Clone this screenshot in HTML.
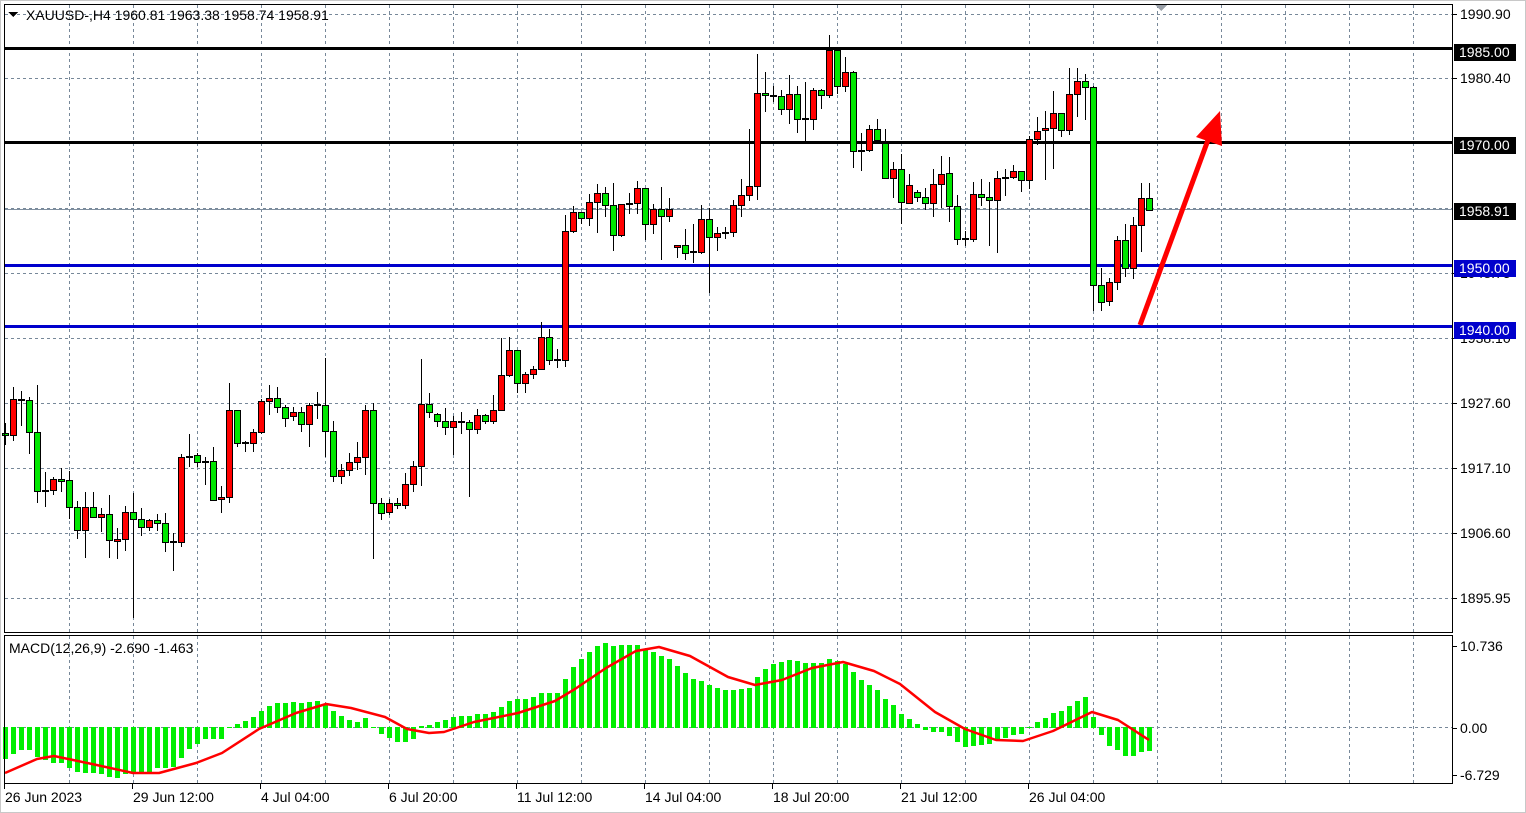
<!DOCTYPE html>
<html><head><meta charset="utf-8">
<style>
html,body{margin:0;padding:0;background:#fff;}
body{width:1526px;height:813px;overflow:hidden;position:relative;font-family:"Liberation Sans","DejaVu Sans",sans-serif;}
svg{position:absolute;left:0;top:0;}
text{font-family:"Liberation Sans","DejaVu Sans",sans-serif;font-size:14px;}
</style></head><body>
<svg id="s" width="1526" height="813" xmlns="http://www.w3.org/2000/svg" shape-rendering="crispEdges">
<rect x="0" y="0" width="1526" height="813" fill="#fff"/>
<rect x="0.5" y="0.5" width="1525" height="812" fill="none" stroke="#c8c8c8"/>
<g id="grid" stroke="#778899" stroke-dasharray="3,3" stroke-width="1"></g>
<g id="lines"></g>
<g id="candles"></g>
<g id="macd"></g>
<rect x="4.5" y="4.5" width="1448" height="628" fill="none" stroke="#000"/>
<rect x="4.5" y="635.5" width="1448" height="148" fill="none" stroke="#000"/>
<g id="axis"></g>
<polygon points="1155,5 1167,5 1161,11" fill="#9aa0a8"/>
<text x="26" y="20">XAUUSD-,H4  1960.81 1963.38 1958.74 1958.91</text>
<polygon points="8,12 18,12 13,17" fill="#000"/>
<text x="9" y="653">MACD(12,26,9) -2.690 -1.463</text>
</svg>
<script>
var NS="http://www.w3.org/2000/svg";
function el(p,t,a,txt){var e=document.createElementNS(NS,t);for(var k in a)e.setAttribute(k,a[k]);if(txt!==undefined)e.textContent=txt;p.appendChild(e);return e;}
var grid=document.getElementById('grid');
for(var x=69;x<1452;x+=64){el(grid,'line',{x1:x+.5,y1:5,x2:x+.5,y2:632});el(grid,'line',{x1:x+.5,y1:636,x2:x+.5,y2:783});}
[14,78,143,208,273,338,403,468,533,598].forEach(function(y){el(grid,'line',{x1:5,y1:y+.5,x2:1452,y2:y+.5});});
el(grid,'line',{x1:5,y1:727.5,x2:1452,y2:727.5});
var L=document.getElementById('lines');
el(L,'line',{x1:5,y1:209.5,x2:1452,y2:209.5,stroke:'#8090a0','stroke-width':1});
el(L,'rect',{x:5,y:47,width:1448,height:3,fill:'#000'});
el(L,'rect',{x:5,y:141,width:1448,height:3,fill:'#000'});
el(L,'rect',{x:5,y:264,width:1448,height:3,fill:'#0000cc'});
el(L,'rect',{x:5,y:325,width:1448,height:3,fill:'#0000cc'});
var D="g 433 435 423 445|r 399 435 387 441|d 400 400 391 426|g 400 432 397 454|g 432 491 385 503|d 491 491 472 507|r 479 490 477 495|g 479 481 468 492|g 480 507 471 519|g 507 530 501 539|r 507 530 492 558|g 507 517 492 517|r 514 517 508 532|g 514 540 495 558|r 539 541 528 559|r 512 539 506 551|g 512 519 493 618|g 519 527 508 536|r 520 527 519 531|g 520 523 514 531|g 523 542 513 552|d 542 542 533 571|r 457 542 454 547|d 457 457 434 467|g 455 462 453 467|d 462 462 457 485|g 461 500 447 501|r 497 499 486 513|r 410 497 383 503|g 410 443 410 447|d 443 443 441 452|r 432 443 429 452|r 401 432 399 434|r 398 401 385 415|g 398 407 387 413|g 407 418 405 427|r 412 416 407 421|g 412 424 407 432|r 405 424 403 447|d 405 405 392 419|g 405 431 358 457|g 431 476 421 482|r 470 476 464 484|r 462 470 453 476|r 457 462 442 470|r 410 457 405 475|g 410 503 403 559|g 503 513 498 520|r 503 512 499 515|g 503 505 498 509|r 484 505 473 509|r 466 484 461 492|r 404 466 359 486|g 404 412 393 418|g 414 421 413 427|g 421 427 408 435|r 421 427 416 455|d 422 422 412 434|g 422 429 420 497|r 415 429 409 434|g 415 421 414 424|r 410 421 395 424|r 375 410 338 411|r 350 375 337 377|g 350 383 350 393|r 374 383 372 393|r 369 374 366 379|r 337 369 322 369|g 337 360 329 365|d 360 360 349 368|r 231 360 215 367|r 212 231 206 233|g 212 218 212 224|r 202 218 194 226|r 193 202 184 233|g 193 205 187 217|g 205 235 183 251|r 204 235 204 237|d 204 204 193 214|r 188 203 181 214|g 188 224 188 240|r 209 224 204 234|g 209 216 187 260|r 209 216 198 222|r 245 247 245 258|g 245 253 229 260|d 252 252 224 263|r 219 252 205 254|g 219 237 208 293|r 233 237 227 251|d 233 233 227 239|r 205 232 200 237|r 195 205 179 217|r 186 195 129 201|r 93 186 54 200|g 93 95 72 112|d 96 96 86 102|g 96 109 90 115|r 94 109 75 124|g 94 119 86 133|d 119 119 82 144|r 90 119 88 130|g 90 95 89 109|r 50 95 35 98|g 50 86 50 94|r 72 86 57 92|g 72 151 71 168|d 151 151 133 171|r 129 150 125 152|g 129 140 119 140|g 143 178 129 179|r 169 178 162 198|g 169 202 154 224|r 185 203 174 203|g 192 197 190 202|g 197 203 188 210|r 184 203 169 217|r 174 184 156 208|g 173 206 157 222|g 206 239 195 245|d 239 239 231 246|r 194 239 182 242|g 194 197 179 206|g 197 200 182 246|r 178 200 171 253|d 178 178 169 196|r 171 177 165 179|g 171 180 171 192|r 139 180 136 189|r 131 139 117 145|r 128 130 111 180|r 113 128 91 169|g 113 130 113 137|r 94 130 68 135|r 81 94 68 117|g 81 87 74 120|g 87 285 86 311|g 285 302 268 311|r 282 301 278 306|r 240 282 236 290|g 240 268 224 277|r 225 268 217 279|r 198 225 183 252|g 198 210 183 211";
var C=document.getElementById('candles');
D.split('|').forEach(function(s,i){var p=s.split(' ');var t=p[0],bt=+p[1],bb=+p[2],wt=+p[3],wb=+p[4];var x=5+8*i;
el(C,'rect',{x:x,y:wt,width:1,height:Math.max(1,wb-wt),fill:'#000'});
if(t==='d'||bb-bt<1){el(C,'rect',{x:x-3,y:bt-1,width:7,height:2,fill:'#000'});}
else{el(C,'rect',{x:x-2.5,y:bt+.5,width:6,height:bb-bt,fill:t==='r'?'#ff0000':'#00e600',stroke:'#000','stroke-width':1});}
});
var H=[759,754,750,750,757,760,763,763,768,772,773,773,774,777,778,774,773,772,772,768,768,767,758,749,744,739,739,739,728,724,721,717,711,706,703,703,702,703,702,701,704,711,716,720,722,718,727,734,738,742,742,739,726,725,722,720,717,716,716,714,714,712,707,701,699,699,697,693,693,693,679,667,659,652,646,643,646,645,645,645,649,652,656,659,666,673,679,681,685,688,690,690,689,688,677,669,664,662,660,661,663,663,663,659,661,664,672,680,685,690,699,705,714,719,724,730,732,732,736,742,747,746,745,744,740,738,735,734,727,722,718,713,711,706,701,697,717,735,746,750,756,756,752,751];
var M=document.getElementById('macd');
H.forEach(function(y,i){var x=5+8*i-2;var t=Math.min(y,727),b=Math.max(y,728);if(b-t<1)return;el(M,'rect',{x:x,y:t,width:5,height:b-t,fill:'#00ee00'});});
var sig=[[5,773],[37,759],[54,756],[92,764],[133,773],[159,773],[196,763],[222,753],[259,729],[296,713],[326,704],[351,708],[385,717],[407,729],[429,733],[444,732],[474,722],[518,713],[555,701],[575,689],[606,668],[636,651],[659,647],[690,656],[728,677],[755,685],[782,680],[812,668],[843,662],[874,671],[900,684],[935,712],[965,729],[996,740],[1023,741],[1053,731],[1092,712],[1118,720],[1149,740]];
el(M,'polyline',{points:sig.map(function(p){return p.join(',')}).join(' '),fill:'none',stroke:'#ff0000','stroke-width':2.5,'shape-rendering':'auto','stroke-linejoin':'round'});
var A=document.getElementById('axis');
[[14,'1990.90'],[78,'1980.40'],[273,'1948.75'],[338,'1938.10'],[403,'1927.60'],[468,'1917.10'],[533,'1906.60'],[598,'1895.95'],[646,'10.736'],[728,'0.00'],[775,'-6.729']].forEach(function(a){el(A,'line',{x1:1453,y1:a[0]+.5,x2:1457,y2:a[0]+.5,stroke:'#000'});el(A,'text',{x:1460,y:a[0]+5},a[1]);});
[[52,'1985.00','#000'],[145,'1970.00','#000'],[211,'1958.91','#000'],[268,'1950.00','#0000cc'],[330,'1940.00','#0000cc']].forEach(function(a){el(A,'rect',{x:1454,y:a[0]-8,width:62,height:17,fill:a[2]});el(A,'text',{x:1459,y:a[0]+5,fill:'#fff'},a[1]);});
[[4,'26 Jun 2023'],[132,'29 Jun 12:00'],[260,'4 Jul 04:00'],[388,'6 Jul 20:00'],[516,'11 Jul 12:00'],[644,'14 Jul 04:00'],[772,'18 Jul 20:00'],[900,'21 Jul 12:00'],[1028,'26 Jul 04:00']].forEach(function(a){el(A,'line',{x1:a[0]+.5,y1:784,x2:a[0]+.5,y2:789,stroke:'#000'});el(A,'text',{x:a[0]+1,y:802},a[1]);});
el(A,'line',{x1:1140,y1:325,x2:1208,y2:140,stroke:'#ff0000','stroke-width':5,'shape-rendering':'auto'});
el(A,'polygon',{points:'1220,111 1222,146 1196,137',fill:'#ff0000','shape-rendering':'auto'});
</script>
</body></html>
